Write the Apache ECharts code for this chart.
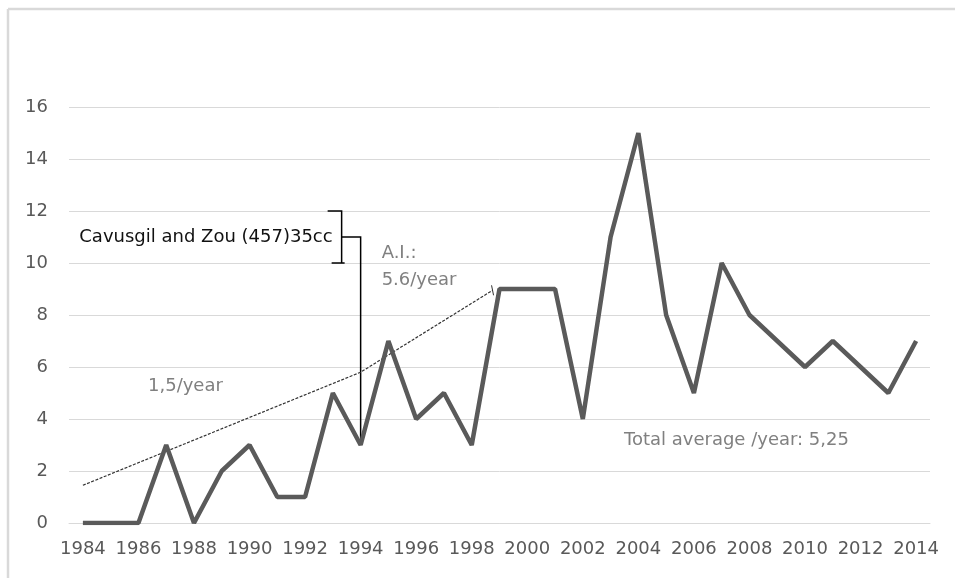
<!DOCTYPE html>
<html>
<head>
<meta charset="utf-8">
<script src="https://cdn.jsdelivr.net/npm/echarts@6/dist/echarts.min.js"></script>
<style>
  html, body { margin: 0; padding: 0; background: #fff; overflow: hidden; }
  #chart { width: 955px; height: 578px; }
</style>
</head>
<body>
<div id="chart"></div>
<script>
// years on the x axis
const years = []
for (let y = 1984; y <= 2014; y++) years.push(String(y))

// number of publications per year
const counts = [0, 0, 0, 3, 0, 2, 3, 1, 1, 5, 3, 7, 4, 5, 3, 9, 9, 9, 4, 11, 15, 8, 5, 10, 8, 7, 6, 7, 6, 5, 7]

// thin trend line (year, value)
const trendYears = [1984, 1994, 1998.75]
const trendValues = [1.45, 5.8, 8.95]

// the marked 1994 study
const markYear = '1994'
const markFrom = 3
const markTo = 11
const bracketTop = 12
const bracketBottom = 10

const font = 'DejaVu Sans'
const chart = echarts.init(document.getElementById('chart'))

const option = {
  backgroundColor: '#fff',
  animation: false,
  grid: { left: 69, right: 25, top: 107, bottom: 55 },
  xAxis: [
    {
      type: 'category',
      data: years,
      boundaryGap: true,
      axisLine: { lineStyle: { color: '#d9d9d9', width: 1 } },
      axisTick: { show: false },
      axisLabel: {
        interval: 1,
        color: '#595959',
        fontFamily: font,
        fontSize: 18,
        margin: 17
      }
    },
    {
      type: 'value',
      min: 1983.5,
      max: 2014.5,
      show: false
    }
  ],
  yAxis: {
    type: 'value',
    min: 0,
    max: 16,
    interval: 2,
    axisLine: { show: false },
    axisTick: { show: false },
    splitLine: { lineStyle: { color: '#d9d9d9', width: 1 } },
    axisLabel: {
      color: '#595959',
      fontFamily: font,
      fontSize: 18,
      margin: 21
    }
  },
  series: [
    {
      name: 'counts',
      type: 'line',
      data: counts,
      symbol: 'none',
      lineStyle: { color: '#5a5a5a', width: 4.5 },
      z: 3
    },
    {
      name: 'trend',
      type: 'line',
      xAxisIndex: 1,
      data: trendYears.map((y, i) => [y, trendValues[i]]),
      symbol: 'none',
      lineStyle: { color: '#333', width: 1.2, type: [3, 1.5] },
      z: 2
    }
  ]
}

chart.setOption(option)

// annotations placed from data coordinates
const px = (x, y) => chart.convertToPixel({ xAxisIndex: 0, yAxisIndex: 0 }, [x, y])
const lowPt = px(markYear, markFrom)
const topPt = px(markYear, markTo)
const bx = topPt[0] - 19
const bTop = px(markYear, bracketTop)[1]
const bBot = px(markYear, bracketBottom)[1]
const trendEnd = chart.convertToPixel({ xAxisIndex: 1, yAxisIndex: 0 }, [trendYears[2], trendValues[2]])
const s = { stroke: '#000', lineWidth: 1.5 }
const grey = '#808080'
const frame = { stroke: '#d9d9d9', lineWidth: 2.5 }

chart.setOption({
  graphic: [
    // outer frame (top and left edges only are inside the picture)
    { type: 'line', shape: { x1: 8, y1: 9, x2: 955, y2: 9 }, style: frame, silent: true },
    { type: 'line', shape: { x1: 8, y1: 9, x2: 8, y2: 578 }, style: frame, silent: true },
    // vertical pointer and bracket
    { type: 'polyline', shape: { points: [[lowPt[0], lowPt[1]], [topPt[0], topPt[1]], [bx, topPt[1]]] }, style: Object.assign({ fill: 'none' }, s) },
    { type: 'polyline', shape: { points: [[bx - 14, bTop], [bx, bTop], [bx, bBot], [bx - 10, bBot], [bx + 3, bBot]] }, style: Object.assign({ fill: 'none' }, s) },
    // little end tick of the trend line
    { type: 'line', shape: { x1: trendEnd[0] - 1, y1: trendEnd[1] - 5, x2: trendEnd[0] + 1, y2: trendEnd[1] + 5 }, style: { stroke: '#333', lineWidth: 1 } },
    { type: 'text', x: bx - 9, y: topPt[1], style: { text: 'Cavusgil and Zou (457)35cc', fill: '#111', font: '18px "DejaVu Sans"', align: 'right', verticalAlign: 'middle' } },
    { type: 'text', x: topPt[0] + 21, y: 253, style: { text: 'A.I.:', fill: grey, font: '18px "DejaVu Sans"', verticalAlign: 'middle' } },
    { type: 'text', x: topPt[0] + 21, y: 280, style: { text: '5.6/year', fill: grey, font: '18px "DejaVu Sans"', verticalAlign: 'middle' } },
    { type: 'text', x: 148, y: 386, style: { text: '1,5/year', fill: grey, font: '18px "DejaVu Sans"', verticalAlign: 'middle' } },
    { type: 'text', x: 624, y: 440, style: { text: 'Total average /year: 5,25', fill: grey, font: '18px "DejaVu Sans"', verticalAlign: 'middle' } }
  ]
})
</script>
</body>
</html>
